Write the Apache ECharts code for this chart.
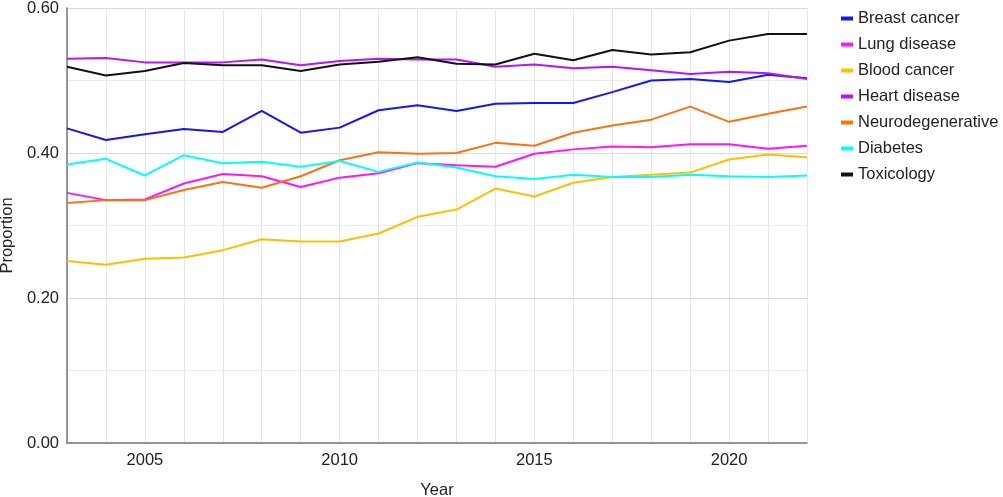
<!DOCTYPE html>
<html>
<head>
<meta charset="utf-8">
<script src="https://cdn.jsdelivr.net/npm/echarts@6/dist/echarts.min.js"></script>
<style>
  html, body { margin: 0; padding: 0; background: #fff; }
  #chart { width: 1003px; height: 497px; }
</style>
</head>
<body>
<div id="chart"></div>
<script>
const years = [2003, 2004, 2005, 2006, 2007, 2008, 2009, 2010, 2011, 2012,
  2013, 2014, 2015, 2016, 2017, 2018, 2019, 2020, 2021, 2022];

const breastCancer = [0.434, 0.418, 0.426, 0.433, 0.429, 0.458, 0.428, 0.435, 0.459, 0.466,
  0.458, 0.468, 0.469, 0.469, 0.484, 0.500, 0.502, 0.498, 0.508, 0.503];
const lungDisease = [0.345, 0.335, 0.336, 0.358, 0.371, 0.368, 0.353, 0.366, 0.372, 0.386,
  0.383, 0.381, 0.399, 0.405, 0.409, 0.408, 0.412, 0.412, 0.406, 0.410];
const bloodCancer = [0.251, 0.246, 0.254, 0.256, 0.266, 0.281, 0.278, 0.278, 0.289, 0.312,
  0.322, 0.351, 0.340, 0.359, 0.367, 0.370, 0.373, 0.391, 0.398, 0.394];
const heartDisease = [0.530, 0.531, 0.525, 0.525, 0.525, 0.529, 0.521, 0.527, 0.530, 0.529,
  0.529, 0.519, 0.522, 0.517, 0.519, 0.514, 0.509, 0.512, 0.510, 0.502];
const neurodegenerative = [0.331, 0.335, 0.335, 0.349, 0.360, 0.352, 0.368, 0.390, 0.401, 0.399,
  0.400, 0.414, 0.410, 0.428, 0.438, 0.446, 0.464, 0.443, 0.454, 0.464];
const diabetes = [0.384, 0.392, 0.369, 0.397, 0.386, 0.388, 0.381, 0.389, 0.374, 0.387,
  0.380, 0.368, 0.364, 0.370, 0.367, 0.367, 0.370, 0.368, 0.367, 0.369];
const toxicology = [0.519, 0.507, 0.513, 0.524, 0.521, 0.521, 0.513, 0.522, 0.526, 0.532,
  0.523, 0.522, 0.537, 0.528, 0.542, 0.536, 0.539, 0.555, 0.564, 0.564];

const seriesNames = ['Breast cancer', 'Lung disease', 'Blood cancer', 'Heart disease',
  'Neurodegenerative', 'Diabetes', 'Toxicology'];
const seriesData = [breastCancer, lungDisease, bloodCancer, heartDisease,
  neurodegenerative, diabetes, toxicology];
const colors = ['#1414ff', '#ff14ff', '#ffbf00', '#b414ff', '#ff7010', '#00ffff', '#111111'];

const chart = echarts.init(document.getElementById('chart'));

const font = 'Liberation Sans, Arial, sans-serif';

chart.setOption({
  animation: false,
  textStyle: { fontFamily: font },
  color: colors,
  grid: { left: 67, right: 196, top: 8, bottom: 54, containLabel: false, outerBoundsMode: 'none' },
  legend: {
    orient: 'vertical',
    left: 836,
    top: 5,
    icon: 'rect',
    itemWidth: 12,
    itemHeight: 4,
    itemGap: 9,
    textStyle: { fontSize: 16.5, color: '#222', fontFamily: font },
    data: seriesNames
  },
  xAxis: {
    type: 'value',
    min: 2003,
    max: 2022,
    interval: 1,
    name: 'Year',
    nameLocation: 'middle',
    nameGap: 39,
    nameTextStyle: { fontSize: 16.5, color: '#222' },
    axisLine: { lineStyle: { color: '#777', width: 1.5 } },
    axisTick: { show: false },
    axisLabel: {
      fontSize: 16.5,
      color: '#222',
      margin: 9,
      formatter: v => (v % 5 === 0 ? String(v) : '')
    },
    splitLine: { show: true, lineStyle: { color: '#e6e6e6', width: 1 } }
  },
  yAxis: {
    type: 'value',
    min: 0,
    max: 0.6,
    interval: 0.2,
    name: 'Proportion',
    nameLocation: 'middle',
    nameGap: 47,
    nameTextStyle: { fontSize: 16.5, color: '#222', padding: [0, 20, 0, 0] },
    axisLine: { show: true, lineStyle: { color: '#777', width: 1.5 } },
    axisTick: { show: false },
    axisLabel: {
      fontSize: 16.5,
      color: '#222',
      margin: 8,
      formatter: v => v.toFixed(2)
    },
    splitLine: { show: true, lineStyle: { color: '#dcdcdc', width: 1 } },
    minorTick: { show: false, splitNumber: 2 },
    minorSplitLine: { show: true, lineStyle: { color: '#ececec', width: 1 } }
  },
  series: seriesNames.map((name, i) => ({
    name: name,
    type: 'line',
    showSymbol: false,
    lineStyle: { width: 2 },
    data: years.map((y, j) => [y, seriesData[i][j]])
  }))
});
</script>
</body>
</html>
